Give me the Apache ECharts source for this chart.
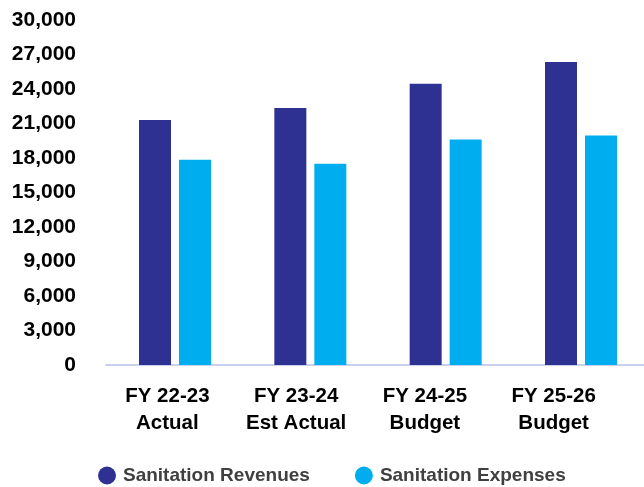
<!DOCTYPE html>
<html>
<head>
<meta charset="utf-8">
<script src="https://cdn.jsdelivr.net/npm/echarts@6/dist/echarts.min.js"></script>
<style>
  html, body { margin: 0; padding: 0; background: #fff; }
  #chart { width: 644px; height: 487px; }
</style>
</head>
<body>
<div id="chart"></div>
<script>
// Sanitation fund: revenues vs expenses by fiscal year
const categories = ['FY 22-23\nActual', 'FY 23-24\nEst Actual', 'FY 24-25\nBudget', 'FY 25-26\nBudget'];
const revenues = [21300, 22350, 24450, 26350];
const expenses = [17850, 17500, 19600, 19950];
const seriesNames = ['Sanitation Revenues', 'Sanitation Expenses'];

const chart = echarts.init(document.getElementById('chart'), null, { renderer: 'canvas' });
const font = 'Liberation Sans, Arial, sans-serif';
const valueAxisBase = { type: 'value', min: 0, max: 30000, interval: 3000 };

chart.setOption({
  animation: false,
  backgroundColor: '#ffffff',
  grid: [
    // bar groups: categories sit on points from first to last group centre
    { left: 175, top: 20, width: 406, bottom: 122, containLabel: false },
    // captions under each group
    { left: 103, top: 20, width: 515, bottom: 122, containLabel: false },
    // full-width base line and value labels
    { left: 106, top: 20, right: 0, bottom: 122, containLabel: false }
  ],
  legend: {
    data: seriesNames,
    left: 98,
    top: 466,
    padding: 0,
    icon: 'circle',
    itemWidth: 18,
    itemHeight: 18,
    itemGap: 45,
    textStyle: { fontFamily: font, fontSize: 19, fontWeight: 'bold', color: '#404040', padding: [0, 0, 0, 2] }
  },
  xAxis: [
    {
      type: 'category',
      gridIndex: 0,
      data: categories,
      boundaryGap: false,
      axisLine: { show: false },
      axisTick: { show: false },
      axisLabel: { show: false }
    },
    {
      type: 'category',
      gridIndex: 1,
      data: categories,
      axisLine: { show: false },
      axisTick: { show: false },
      axisLabel: {
        fontFamily: font, fontSize: 20.5, fontWeight: 'bold', color: '#000',
        lineHeight: 27, margin: 18, interval: 0
      }
    },
    {
      type: 'category',
      gridIndex: 2,
      data: categories,
      axisLine: { lineStyle: { color: '#C9D2EA', width: 2 } },
      axisTick: { show: false },
      axisLabel: { show: false }
    }
  ],
  yAxis: [
    Object.assign({ gridIndex: 0, show: false }, valueAxisBase),
    Object.assign({ gridIndex: 1, show: false }, valueAxisBase),
    Object.assign({
      gridIndex: 2,
      splitLine: { show: false },
      axisLine: { show: false },
      axisTick: { show: false },
      axisLabel: {
        fontFamily: font, fontSize: 21, fontWeight: 'bold', color: '#000', margin: 30,
        formatter: v => v.toLocaleString('en-US')
      }
    }, valueAxisBase)
  ],
  series: [
    { name: seriesNames[0], type: 'bar', data: revenues, barWidth: 32, barGap: '25%', clip: false, z: 3, itemStyle: { color: '#2E3192' } },
    { name: seriesNames[1], type: 'bar', data: expenses, barWidth: 32, clip: false, z: 3, itemStyle: { color: '#00AEEF' } }
  ]
});
</script>
</body>
</html>
